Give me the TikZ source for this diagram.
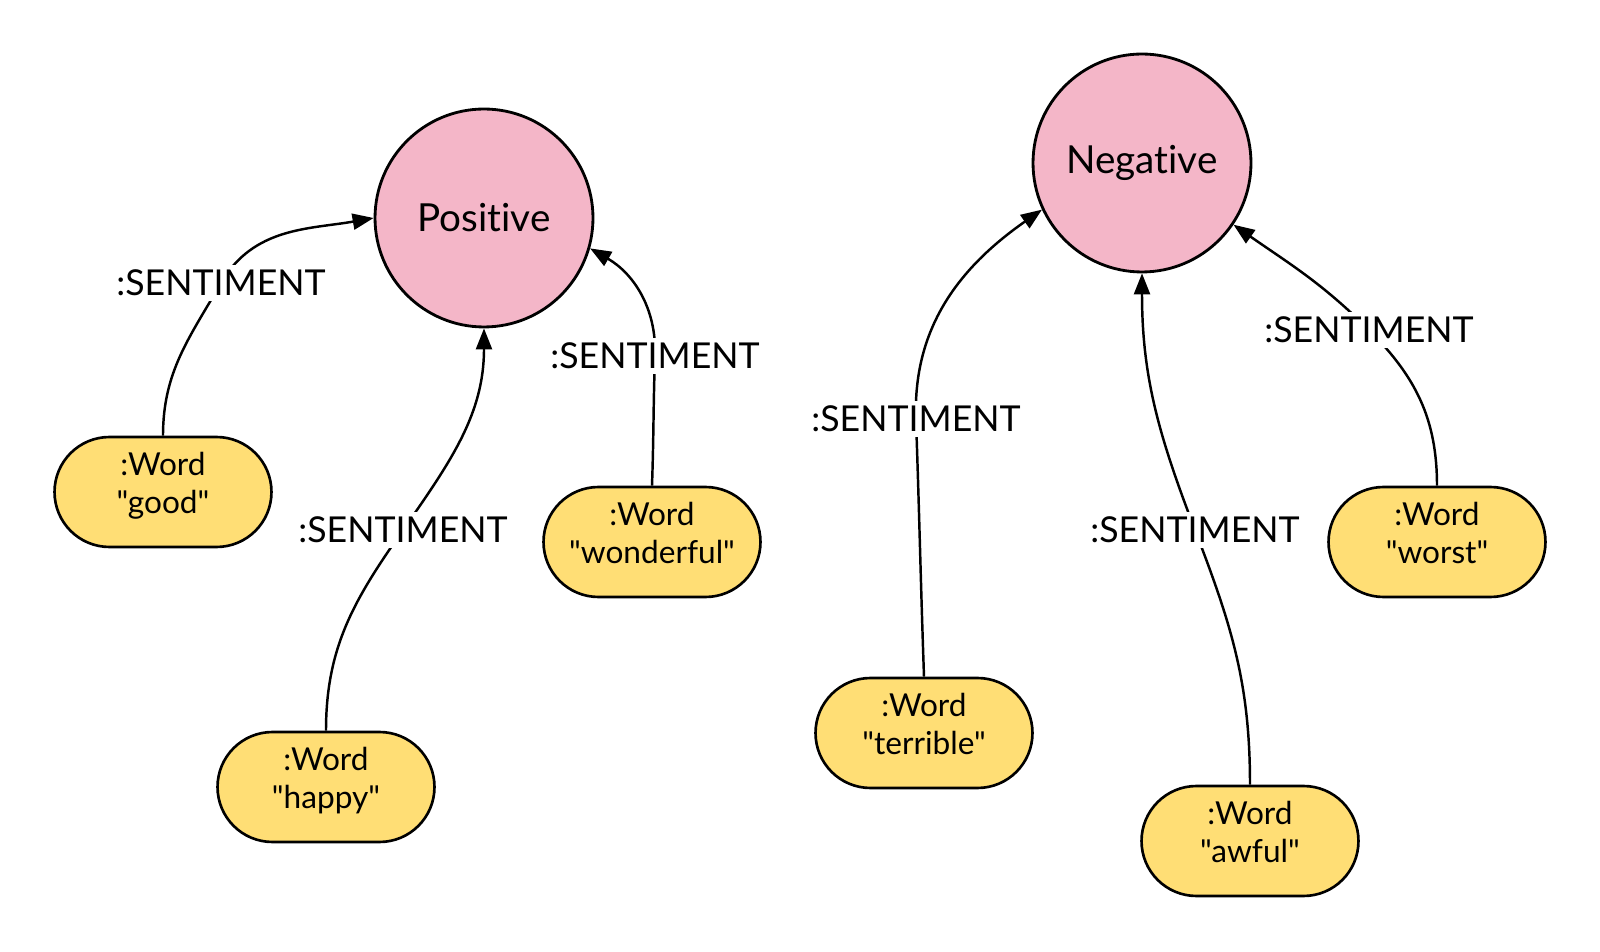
\documentclass[tikz,border=0pt]{standalone}
\usepackage{fontspec}
\setmainfont{Lato}[Ligatures={TeXOff,NoCommon}]
\usetikzlibrary{arrows.meta}
\definecolor{sentpink}{RGB}{244,182,200}
\definecolor{wordyellow}{RGB}{255,222,117}
\pgfdeclarelayer{background}
\pgfsetlayers{background,main}
\newcommand{\wordval}[1]{"#1"}

\begin{document}
\begin{tikzpicture}[x=0.02cm, y=0.02cm,
  sentiment/.style={circle, draw=black, line width=1.6pt, fill=sentpink, minimum size=4.36cm, inner sep=0pt, font=\fontsize{22}{26}\selectfont},
  word/.style={rectangle, rounded corners=1.1cm, draw=black, line width=1.5pt, fill=wordyellow, minimum width=4.34cm, minimum height=2.2cm, align=center, text height=34pt, text depth=10pt, font=\fontsize{18}{21.6}\selectfont},
  rellabel/.style={fill=white, inner sep=3pt, font=\fontsize{20.3}{25}\selectfont},
  rel/.style={line width=1.4pt, -{Triangle[length=0.42cm,width=0.32cm]}}]
\useasboundingbox (0,0) rectangle (1600,951);

% SENTIMENTS
\node [sentiment] (pos) at (484, 733) {Positive};
\node [sentiment] (neg) at (1142, 788) {Negative};

% WORDS
\node [word] (good) at (163, 459) {:Word\\\wordval{good}};
\node [word] (happy) at (326, 164) {:Word\\\wordval{happy}};
\node [word] (wonderful) at (652, 409) {:Word\\\wordval{wonderful}};
\node [word] (terrible) at (924, 218) {:Word\\\wordval{terrible}};
\node [word] (awful) at (1250, 110) {:Word\\\wordval{awful}};
\node [word] (worst) at (1437, 409) {:Word\\\wordval{worst}};

% RELATIONSHIP LABELS
\node [rellabel] (l1) at (221, 668) {:SENTIMENT};
\node [rellabel] (l2) at (403, 421) {:SENTIMENT};
\node [rellabel] (l3) at (655, 595) {:SENTIMENT};
\node [rellabel] (l4) at (916, 532) {:SENTIMENT};
\node [rellabel] (l5) at (1195, 421) {:SENTIMENT};
\node [rellabel] (l6) at (1369, 621) {:SENTIMENT};

\begin{pgfonlayer}{background}
\draw [rel] (good.north) to[out=90, in=-120] (l1.center) to[out=60, in=190] (pos.west);
\draw [rel] (happy.north) to[out=90, in=-125] (l2.center) to[out=55, in=-90] (pos.south);
\draw [rel] (wonderful.north) to[out=88, in=-92] (l3.center) to[out=88, in=-30] (pos.-16);
\draw [rel] (terrible.north) to[out=92, in=-88] (l4.center) to[out=92, in=215] (neg.-155);
\draw [rel] (awful.north) to[out=90, in=-69] (l5.center) to[out=111, in=-90] (neg.south);
\draw [rel] (worst.north) to[out=90, in=-45] (l6.center) to[out=135, in=-35] (neg.-34);
\end{pgfonlayer}
\end{tikzpicture}
\end{document}
